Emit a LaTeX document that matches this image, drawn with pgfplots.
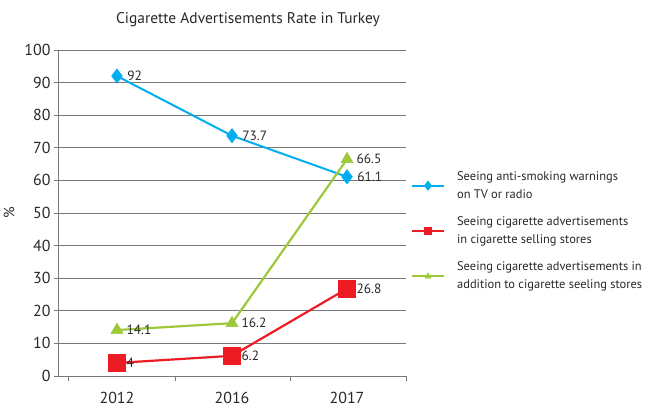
\documentclass[border=0pt]{standalone}
\usepackage{fontspec}
\setmainfont{PT Sans}
\usepackage{pgfplots}
\pgfplotsset{compat=1.18}
\definecolor{cblue}{RGB}{0,174,239}
\definecolor{cred}{RGB}{237,28,36}
\definecolor{cgreen}{RGB}{158,200,58}
\definecolor{cgrid}{RGB}{120,120,120}
\definecolor{ctext}{RGB}{40,40,40}
\begin{document}
\begin{tikzpicture}[x=1bp,y=1bp]
\path[use as bounding box] (0,0) rectangle (650,419);
\node[font=\fontsize{15.5}{19}\selectfont, text=ctext] at (248,399) {Cigarette Advertisements Rate in Turkey};
\begin{axis}[
  at={(58bp,43bp)}, anchor=south west,
  scale only axis, width=348bp, height=326bp,
  xmin=-0.513, xmax=2.513, ymin=0, ymax=100,
  axis x line*=bottom, axis y line*=left,
  axis line style={cgrid, line width=0.8pt},
  /pgf/number format/assume math mode=true,
  ytick={0,10,...,100},
  ymajorgrids, grid style={cgrid, line width=0.8pt},
  tick align=outside,
  major tick length=4bp,
  tick style={cgrid, line width=0.8pt},
  xtick={0,1,2}, xticklabels={2012,2016,2017},
  major x tick style={draw=none},
  minor xtick={-0.426,0.504,1.504,2.513},
  minor tick length=5bp,
  ticklabel style={font=\fontsize{16}{18}\selectfont, text=ctext},
  xticklabel style={yshift=-9bp},
  ylabel={\%}, ylabel style={font=\fontsize{15}{18}\selectfont, text=ctext, yshift=3bp},
  nodes near coords,
  every node near coord/.append style={anchor=west, xshift=6bp, font=\fontsize{13.5}{15}\selectfont, text=ctext},
  legend style={at={(1.005,0.64)}, anchor=north west, draw=none, fill=none,
    font=\fontsize{12.5}{18}\selectfont, text=ctext, cells={align=left},
    row sep=13bp, column sep=10bp},
  legend cell align=left,
  legend image post style={mark size=3.5bp},
  legend image code/.code={\draw[mark repeat=2,mark phase=2,#1] plot coordinates {(0bp,0bp) (16bp,0bp) (32bp,0bp)};},
]
\addplot[cblue, line width=2pt, mark=diamond*, mark size=6bp, mark options={fill=cblue, draw=cblue}]
  coordinates {(0,92) (1,73.7) (2,61.1)};
\addlegendentry{Seeing anti-smoking warnings\\on TV or radio}
\addplot[cred, line width=2.2pt, mark=square*, mark size=8.5bp, mark options={fill=cred, draw=cred, line width=0.5pt}]
  coordinates {(0,4) (1,6.2) (2,26.8)};
\addlegendentry{Seeing cigarette advertisements\\in cigarette selling stores}
\addplot[cgreen, line width=2.2pt, mark=triangle*, mark size=7bp, mark options={fill=cgreen, draw=cgreen, line width=0.5pt}]
  coordinates {(0,14.1) (1,16.2) (2,66.5)};
\addlegendentry{Seeing cigarette advertisements in\\addition to cigarette seeling stores}
\end{axis}
\end{tikzpicture}
\end{document}
